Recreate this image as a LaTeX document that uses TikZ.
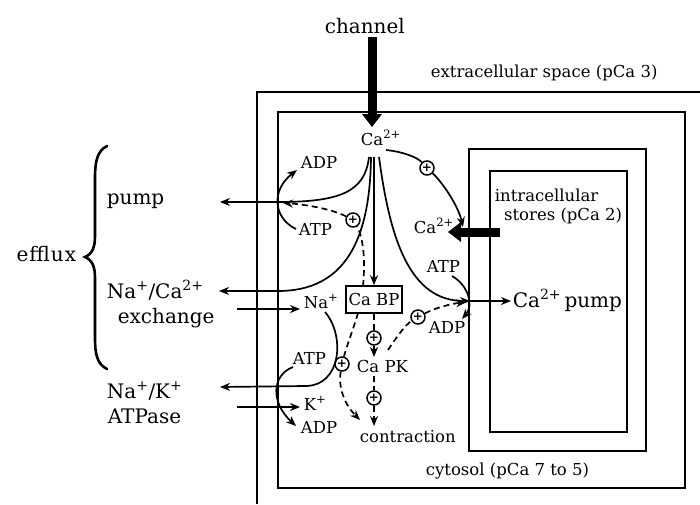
\documentclass[tikz,border=0pt]{standalone}
\usepackage{fontspec}
\setmainfont{DejaVu Serif}
\usetikzlibrary{arrows.meta}
\begin{document}
\begin{tikzpicture}[x=1pt,y=-1pt, line width=1.7pt,
 lbl/.style={anchor=base west, inner sep=0pt, font=\fontsize{16.5}{18}\selectfont},
 big/.style={anchor=base west, inner sep=0pt, font=\fontsize{20}{22}\selectfont},
 plus/.style={circle, draw, line width=1.5pt, minimum size=14pt, inner sep=0pt, font=\fontsize{12}{12}\selectfont\bfseries},
 arr/.style={-{Stealth[length=10pt,width=8pt]}},
 dsh/.style={dash pattern=on 6pt off 4pt},
 fat/.style={line width=9pt, -{Triangle[length=13pt,width=20pt,line width=0pt]}}
]
\useasboundingbox (0,0) rectangle (700,504);
% membranes
\draw (257,504) -- (257,92) -- (700,92);
\draw (278,112) rectangle (685,488);
\draw (469,149) rectangle (646,451);
\draw (490,171) rectangle (627,432);
% labels
\node[lbl, font=\fontsize{20}{22}\selectfont] (channel) at (324,33) {channel};
\node[lbl] (extra) at (430,77) {extracellular space (pCa 3)};
\node[lbl] (cyto) at (425,475) {cytosol (pCa 7 to 5)};
\node[lbl] (intra) at (494,201) {intracellular};
\node[lbl, anchor=base east] (stores) at (623,220) {stores (pCa 2)};
\node[lbl] (caTop) at (360,145) {Ca\textsuperscript{2+}};
\node[lbl] (caSt) at (413,233) {Ca\textsuperscript{2+}};
\node[lbl] (adp1) at (300,168) {ADP};
\node[lbl] (atp1) at (298,235) {ATP};
\node[lbl] (atp3) at (426,272) {ATP};
\node[lbl] (adp3) at (428,333) {ADP};
\node[big] (cpump) at (512,307) {Ca\textsuperscript{2+}\,pump};
\node[draw, rectangle, line width=1.7pt, minimum width=56pt, minimum height=27pt, inner sep=0pt, font=\fontsize{16.5}{18}\selectfont] (cabp) at (374,299.5) {Ca BP};
\node[lbl] (na) at (303,308) {Na\textsuperscript{+}};
\node[lbl] (atp2) at (292,364) {ATP};
\node[lbl] (capk) at (356,372) {Ca PK};
\node[lbl] (k) at (303,410) {K\textsuperscript{+}};
\node[lbl] (adp2) at (300,433) {ADP};
\node[lbl] (contr) at (359,442) {contraction};
\node[big] (pump) at (106,204) {pump};
\node[big] (naca) at (106,298) {Na\textsuperscript{+}/Ca\textsuperscript{2+}};
\node[big] (exch) at (117,323) {exchange};
\node[big] (nak) at (106,398) {Na\textsuperscript{+}/K\textsuperscript{+}};
\node[big] (atpase) at (107,423) {ATPase};
\node[big, anchor=base east, font=\fontsize{20}{22}\selectfont\addfontfeature{LetterSpace=5}] (efflux) at (77,261) {efflux};
% brace
\draw[line width=2.6pt, line cap=round] (107,146) .. controls (97,151) and (95,162) .. (95,178) -- (95,236) .. controls (95,248) and (92,254) .. (85,257) .. controls (92,260) and (95,266) .. (95,278) -- (95,338) .. controls (95,354) and (97,364) .. (107,369);
% plus nodes
\node[plus] (p0) at (427,168) {+};
\node[plus] (p1) at (353,220) {+};
\node[plus] (p2) at (374,338) {+};
\node[plus] (p3) at (374,398) {+};
\node[plus] (p4) at (418,317) {+};
\node[plus] (p5) at (342,364) {+};
% coordinates
\coordinate (m1) at (278,202);
\coordinate (m2) at (278,291);
\coordinate (sp) at (470,301);
\coordinate (o1) at (220,202);
\coordinate (o2) at (219,291);
\coordinate (o3) at (220,387);
\coordinate (i2) at (237,309);
\coordinate (i3) at (237,407);
\coordinate (ch) at (372,37);
\coordinate (st) at (500,232);
% fat arrows
\draw[fat] (ch) -- (372,127);
\draw[fat] (st) -- (448,232);
% fan from Ca
\draw[arr] (369,157) .. controls (365,192) and (340,202) .. (m1) -- (o1);
\draw[arr] (371,157) .. controls (370,240) and (345,291) .. (m2) -- (o2);
\draw[arr] (374,157) -- (cabp.north);
\draw[arr] (379,157) .. controls (390,240) and (410,301) .. (sp);
\draw[arr] (sp) -- (511,301);
\draw (386,150) .. controls (405,152) and (418,158) .. (p0);
\draw[arr] (p0) .. controls (442,182) and (458,205) .. (463,227);
% pump ATP/ADP
\draw[arr] (296,229) .. controls (273,218) and (271,190) .. (297,170);
\draw[dsh] (363,286) .. controls (366,255) and (362,235) .. (p1);
\draw[dsh,arr] (p1) .. controls (330,208) and (300,204) .. (283,203);
% Na/Ca and Na/K
\draw[arr] (i2) -- (300,309);
\draw[arr] (325,312) .. controls (345,335) and (342,386) .. (305,386) -- (o3);
\draw[arr] (293,367) .. controls (272,375) and (270,402) .. (296,426);
\draw[arr] (i3) -- (300,407);
% Ca pump ATP
\draw[arr] (452,276) .. controls (468,285) and (474,305) .. (462,319);
% dashed signalling
\draw[dsh] (cabp.south) -- (p2);
\draw[dsh,arr] (p2) -- (374,357);
\draw[dsh] (374,376) -- (p3);
\draw[dsh,arr] (p3) -- (374,426);
\draw[dsh] (388,350) .. controls (396,338) and (405,325) .. (p4);
\draw[dsh,arr] (p4) .. controls (435,308) and (450,304) .. (466,302);
\draw[dsh] (358,313) .. controls (353,330) and (347,345) .. (p5);
\draw[dsh,arr] (p5) .. controls (338,388) and (345,405) .. (360,420);
\end{tikzpicture}
\end{document}
